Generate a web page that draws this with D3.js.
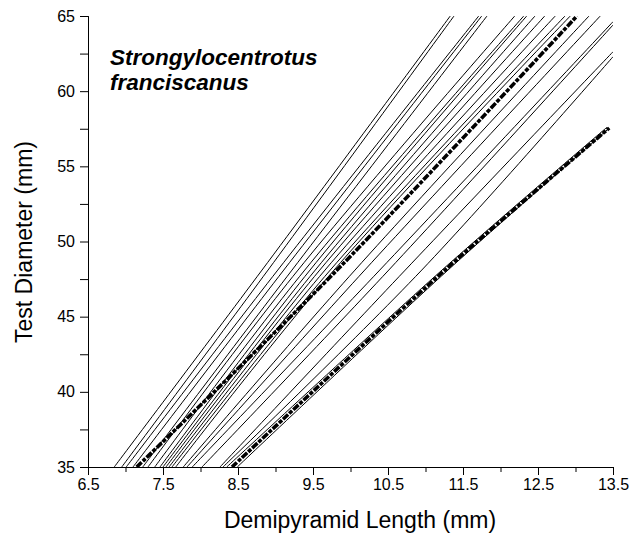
<!DOCTYPE html>
<html>
<head>
<meta charset="utf-8">
<script src="https://cdn.jsdelivr.net/npm/d3@7/dist/d3.min.js"></script>
<style>
  html, body { margin: 0; padding: 0; background: #fff; }
  svg { display: block; }
  text { font-family: "Liberation Sans", Arial, sans-serif; fill: #000; }
</style>
</head>
<body>
<svg id="chart" width="644" height="537"></svg>
<script>
// ---- data ----
const xTicks = [6.5, 7.5, 8.5, 9.5, 10.5, 11.5, 12.5, 13.5];
const xMinorTicks = [7, 8, 9, 10, 11, 12, 13];
const yTicks = [35, 40, 45, 50, 55, 60, 65];
const yMinorTicks = [37.5, 42.5, 47.5, 52.5, 57.5, 62.5];

// each curve: start DL at TD=35, DL at TD=48.1, end point [DL, TD]
const startDL = [6.85, 6.95, 7.01, 7.10, 7.23, 7.30, 7.39, 7.46, 7.50, 7.54, 7.58, 7.62, 7.67, 7.77, 7.82, 7.89, 8.02, 8.26, 8.30, 8.35, 8.49, 7.15, 8.42];
const midDL   = [8.82, 8.90, 9.03, 9.11, 9.22, 9.30, 9.39, 9.46, 9.53, 9.59, 9.66, 9.73, 9.78, 10.06, 10.19, 10.39, 10.51, 10.73, 10.95, 11.22, 11.30, 9.82, 11.26];
const endDL   = [11.33, 11.38, 11.71, 11.75, 11.82, 12.19, 12.31, 12.35, 12.46, 12.59, 12.73, 12.86, 12.93, 13.18, 13.33, 13.5, 13.5, 13.5, 13.5, 13.42, 13.44, 13.02, 13.45];
const endTD   = [65, 65, 65, 65, 65, 65, 65, 65, 65, 65, 65, 65, 65, 65, 65, 64.62, 64.40, 62.62, 62.29, 57.6, 57.5, 65, 57.55];
const dashed  = [0,0,0,0,0,0,0,0,0,0,0,0,0,0,0,0,0,0,0,0,0,1,1];
const midTD = 48.1, startTD = 35;

const title1 = "Strongylocentrotus";
const title2 = "franciscanus";

// ---- layout ----
const svg = d3.select("#chart");
const x = d3.scaleLinear().domain([6.5, 13.5]).range([88, 613]);
const y = d3.scaleLinear().domain([35, 65]).range([467, 16]);

svg.append("defs").append("clipPath").attr("id", "plotclip")
  .append("rect").attr("x", 88).attr("y", 16).attr("width", 525).attr("height", 451);

const curves = startDL.map((s, i) => ({
  pts: [[s, startTD], [midDL[i], midTD], [endDL[i], endTD[i]]],
  dashed: dashed[i]
}));

const line = d3.line().x(d => x(d[0])).y(d => y(d[1])).curve(d3.curveCatmullRom.alpha(0.5));

const g = svg.append("g").attr("clip-path", "url(#plotclip)");
g.selectAll("path.thin").data(curves.filter(c => !c.dashed)).join("path")
  .attr("class", "thin")
  .attr("d", c => line(c.pts))
  .attr("fill", "none").attr("stroke", "#000").attr("stroke-width", 1);
g.selectAll("path.dash").data(curves.filter(c => c.dashed)).join("path")
  .attr("class", "dash")
  .attr("d", c => line(c.pts))
  .attr("fill", "none").attr("stroke", "#000").attr("stroke-width", 3.6)
  .attr("stroke-dasharray", "7,1.5,4,1.5");

// axes
const xAxis = d3.axisBottom(x).tickValues(xTicks).tickFormat(d3.format(".1f")).tickSize(8).tickPadding(4);
const xAxisMinor = d3.axisBottom(x).tickValues(xMinorTicks).tickFormat("").tickSize(5);
const yAxis = d3.axisLeft(y).tickValues(yTicks).tickFormat(d3.format("d")).tickSize(8).tickPadding(5);
const yAxisMinor = d3.axisLeft(y).tickValues(yMinorTicks).tickFormat("").tickSize(8);

function styleAxis(sel) {
  sel.select(".domain").attr("stroke", "#000").attr("stroke-width", 1);
  sel.selectAll(".tick line").attr("stroke", "#000").attr("stroke-width", 1);
  sel.selectAll(".tick text").style("font-size", "16px").style("font-family", "'Liberation Sans', Arial, sans-serif");
}

svg.append("g").attr("transform", "translate(0,467)").call(xAxisMinor).call(styleAxis);
svg.append("g").attr("transform", "translate(0,467)").call(xAxis).call(styleAxis);
svg.append("g").attr("transform", "translate(88,0)").call(yAxisMinor).call(styleAxis);
svg.append("g").attr("transform", "translate(88,0)").call(yAxis).call(styleAxis);

// axis titles
svg.append("text").attr("x", 360).attr("y", 528).attr("text-anchor", "middle")
  .style("font-size", "23px").text("Demipyramid Length (mm)");
svg.append("text").attr("transform", "translate(32,242) rotate(-90)").attr("text-anchor", "middle")
  .style("font-size", "23px").text("Test Diameter (mm)");

// species label
svg.append("text").attr("x", 110).attr("y", 65)
  .style("font-size", "22.5px").style("font-weight", "bold").style("font-style", "italic").text(title1);
svg.append("text").attr("x", 110).attr("y", 90)
  .style("font-size", "22.5px").style("font-weight", "bold").style("font-style", "italic").text(title2);
</script>
</body>
</html>
